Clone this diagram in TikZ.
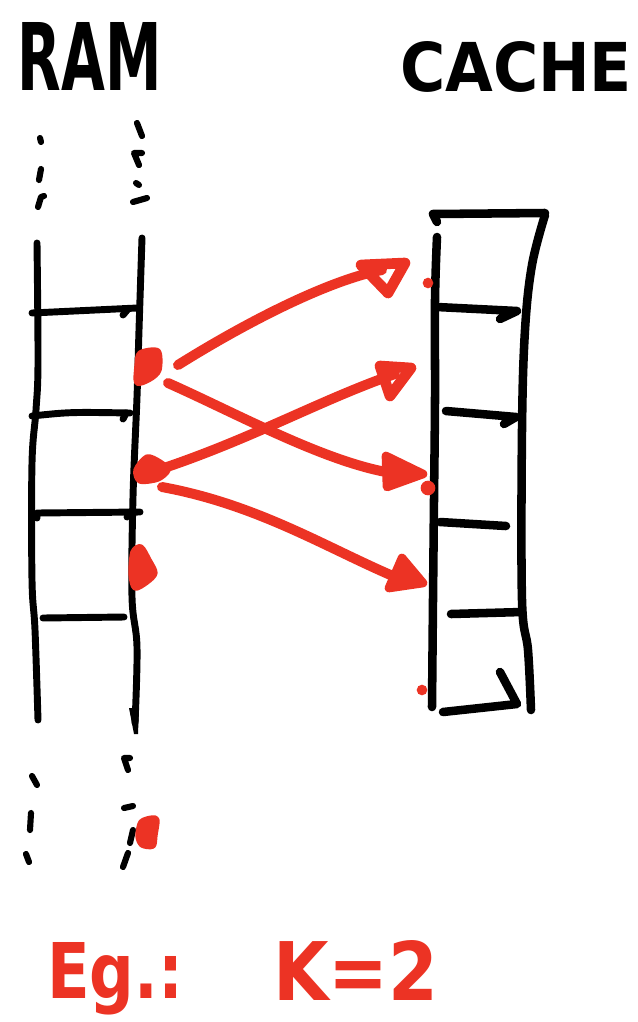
\documentclass[tikz,border=0pt]{standalone}
\usepackage{fontspec}
\setmainfont{DejaVu Sans}
\usepackage{graphicx}
\definecolor{ink}{RGB}{0,0,0}
\definecolor{marker}{RGB}{236,51,36}
\begin{document}
\begin{tikzpicture}[x=0.75pt,y=-0.75pt,
  pen/.style={draw=ink,line width=5.2pt,line cap=round,line join=round},
  thickpen/.style={draw=ink,line width=6.4pt,line cap=round,line join=round},
  dotpen/.style={draw=ink,line width=4.6pt,line cap=round,line join=round},
  redpen/.style={draw=marker,line width=7.5pt,line cap=round,line join=round},
  redhead/.style={draw=marker,fill=marker,line width=6.5pt,line join=round},
  redopen/.style={draw=marker,line width=8pt,line join=round},
  blob/.style={draw=marker,fill=marker,line width=4pt,line join=round},
  label/.style={inner sep=0pt,outer sep=0pt}]

\path[use as bounding box] (0,0) rectangle (637,1022);

% titles
\node[label,anchor=south west] (ram) at (18,90) {\resizebox{108pt}{51pt}{\bfseries RAM}};
\node[label,anchor=south west] (cache) at (400,92) {\resizebox{174pt}{37.5pt}{\bfseries CACHE}};

% ---------------- RAM column ----------------
\draw[pen] plot[smooth,tension=0.6] coordinates {(37,243) (38,363) (36,410) (32,463) (32,580) (35,630) (38,720)};
\draw[pen] plot[smooth,tension=0.6] coordinates {(142,238) (139,330) (137,397) (133,497) (132,597) (137,647) (135,723)};
\fill[ink] (129,708) -- (139,708) -- (138,734) -- (134,734) -- cycle;
% rungs
\draw[pen] (32,313) -- (137,308);
\draw[pen] (123,315) -- (128,309);
\draw[pen] (32,416) .. controls (70,412) .. (130,413);
\draw[pen] (123,419) -- (126,413);
\draw[pen] (37,518) -- (37,513) -- (140,512);
\draw[pen] (127,517) -- (131,512);
\draw[pen] (43,618) -- (124,617);
% continuation dashes above
\draw[dotpen] (40,138) -- (41,142);
\draw[dotpen] (41,169) -- (39,180);
\draw[dotpen] (44,196) -- (41,197) -- (38,207);
\draw[dotpen] (137,123) -- (142,136);
\draw[dotpen] (142,153) -- (134,153) -- (139,165);
\draw[dotpen] (136,183) -- (139,185);
\draw[dotpen] (133,202) -- (147,198);
% continuation dashes below
\draw[dotpen] (32,776) -- (37,785);
\draw[dotpen] (31,813) -- (30,830);
\draw[dotpen] (26,854) -- (29,862);
\draw[dotpen] (130,758) -- (124,758) -- (128,770);
\draw[dotpen] (124,808) -- (133,806);
\draw[dotpen] (133,830) -- (130,843);
\draw[dotpen] (128,853) -- (123,867);

% ---------------- CACHE column ----------------
\draw[thickpen] (437,222) -- (433,214) -- (545,213);
\draw[thickpen] plot[smooth,tension=0.6] coordinates {(437,237) (435,300) (435,400) (434,500) (433,600) (432,707)};
\draw[thickpen] plot[smooth,tension=0.6] coordinates {(545,215) (532,265) (525,330) (522,430) (522,600) (528,650) (531,710)};
\draw[thickpen] (437,307) -- (517,311) -- (500,319);
\draw[thickpen] (446,411) -- (516,417) -- (504,424);
\draw[thickpen] (440,522) -- (506,526);
\draw[thickpen] (451,614) -- (522,612);
\draw[thickpen] (443,712) -- (517,704) -- (500,672);

% ---------------- mapping arrows ----------------
\coordinate (rA) at (178,365);
\coordinate (rB) at (168,383);
\coordinate (rC) at (155,471);
\coordinate (rD) at (162,487);
\coordinate (cA) at (382,270);
\coordinate (cC) at (395,374);
\coordinate (cB) at (398,474);
\coordinate (cD) at (400,579);

\draw[redpen] (rA) .. controls (250,320) and (330,280) .. (cA);
\draw[redpen] (rB) .. controls (240,415) and (330,465) .. (cB);
\draw[redpen] (rC) .. controls (250,440) and (320,400) .. (cC);
\draw[redpen] (rD) .. controls (260,505) and (330,550) .. (cD);

% arrow heads
\draw[redopen] (361,265) -- (405,263) -- (388,293) -- cycle;
\draw[redopen] (380,366) -- (411,368) -- (390,396) -- cycle;
\draw[redhead] (386,456) -- (423,474) -- (387,487) -- cycle;
\draw[redhead] (402,558) -- (423,583) -- (389,588) -- cycle;

% marked RAM blocks
\draw[blob] plot[smooth cycle,tension=0.5] coordinates {(137,366) (140,353) (158,351) (159,370) (150,379) (137,383)};
\draw[blob] plot[smooth cycle,tension=0.5] coordinates {(136,470) (147,457) (160,462) (168,470) (158,479) (140,481)};
\draw[blob] plot[smooth cycle,tension=0.5] coordinates {(133,552) (141,547) (149,560) (155,573) (147,582) (135,588) (131,574)};
\draw[blob] plot[smooth cycle,tension=0.5] coordinates {(141,822) (152,818) (157,820) (155,835) (153,846) (142,845) (138,836)};

% red dots by the cache slots
\fill[marker] (428,283) circle[radius=4pt];
\fill[marker] (428,488) circle[radius=5.5pt];
\fill[marker] (422,690) circle[radius=4pt];

% example note
\node[label,anchor=base west,text=marker] (eg) at (47,998) {\resizebox{102pt}{42pt}{\bfseries Eg.:}};
\node[label,anchor=base west,text=marker] (k) at (273,1000) {\resizebox{124pt}{45pt}{\bfseries K=2}};

\end{tikzpicture}
\end{document}
